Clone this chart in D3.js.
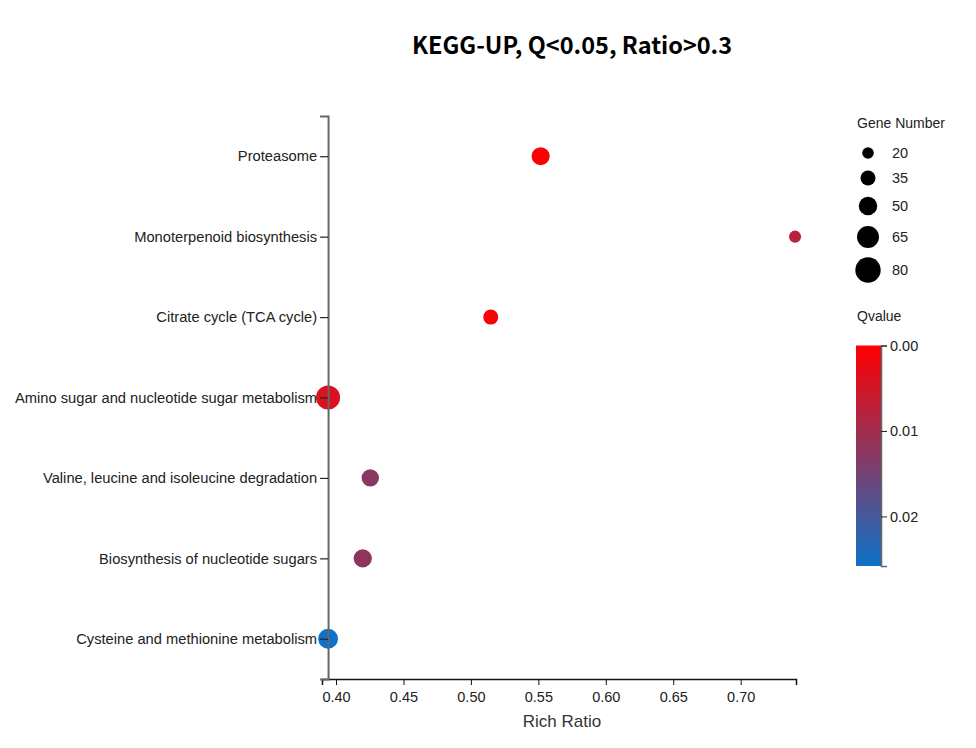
<!DOCTYPE html>
<html>
<head>
<meta charset="utf-8">
<script src="https://cdn.jsdelivr.net/npm/d3@7"></script>
<style>
  body { margin: 0; background: #fff; }
  svg text { font-family: "Liberation Sans", Arial, sans-serif; fill: #222; }
</style>
</head>
<body>
<svg id="chart" width="976" height="748"></svg>
<script>
const categories = [
  "Proteasome",
  "Monoterpenoid biosynthesis",
  "Citrate cycle (TCA cycle)",
  "Amino sugar and nucleotide sugar metabolism",
  "Valine, leucine and isoleucine degradation",
  "Biosynthesis of nucleotide sugars",
  "Cysteine and methionine metabolism"
];
const richRatio = [0.5517, 0.7403, 0.5147, 0.3941, 0.4254, 0.4198, 0.3941];
const geneNumber = [48, 22, 35, 74, 45, 49, 56];
const qValue = [0.0003, 0.0078, 0.0008, 0.004, 0.0125, 0.012, 0.0258];
const xTicks = [0.40, 0.45, 0.50, 0.55, 0.60, 0.65, 0.70];
const sizeLegend = [20, 35, 50, 65, 80];
const qTicks = [0.00, 0.01, 0.02];

const data = categories.map((c, i) => ({ cat: c, x: richRatio[i], n: geneNumber[i], q: qValue[i] }));

const svg = d3.select("#chart");

const x = d3.scaleLinear().domain([0.3896, 0.741]).range([322, 796]);
const y = d3.scalePoint().domain(categories).range([116, 679]).padding(0.5);
const r = d3.scaleLinear().domain([20, 80]).range([5.8, 12.7]);
const qMax = 0.0258;
const color = d3.scaleLinear().domain([0, qMax]).range(["#ff0000", "#0e72c8"]).interpolate(d3.interpolateRgb);

// title
svg.append("text")
  .attr("x", 572).attr("y", 54)
  .attr("text-anchor", "middle")
  .style("font-family", "'Noto Sans CJK SC', 'Open Sans', sans-serif")
  .style("font-weight", "bold")
  .style("font-size", "23.5px")
  .style("fill", "#000")
  .text("KEGG-UP, Q<0.05, Ratio>0.3");

// points
svg.append("g").selectAll("circle")
  .data(data).join("circle")
  .attr("cx", d => x(d.x))
  .attr("cy", d => y(d.cat))
  .attr("r", d => r(d.n))
  .attr("fill", d => color(d.q));

// x axis
const xAxis = svg.append("g")
  .attr("transform", "translate(0,679)")
  .call(d3.axisBottom(x).tickValues(xTicks).tickFormat(d3.format(".2f")).tickSizeOuter(6));
xAxis.select(".domain").attr("stroke", "#111").attr("stroke-width", 1.5);
xAxis.selectAll(".tick line").attr("stroke", "#111");
xAxis.selectAll(".tick text").style("font-size", "14.5px").attr("dy", "0.95em").style("fill", "#222");

svg.append("text")
  .attr("x", 562).attr("y", 727)
  .attr("text-anchor", "middle")
  .style("font-size", "17px")
  .style("fill", "#333")
  .text("Rich Ratio");

// y axis
const yX = x(d3.min(richRatio));
const yAxis = svg.append("g")
  .attr("transform", `translate(${yX},0)`)
  .call(d3.axisLeft(y).tickSize(8).tickSizeOuter(8).tickPadding(3));
yAxis.select(".domain").attr("stroke", "#666").attr("stroke-width", 2);
yAxis.selectAll(".tick line").attr("stroke", "#222").attr("stroke-width", 1.2);
yAxis.selectAll(".tick text").style("font-size", "14.7px").style("fill", "#222");

// size legend
const lg = svg.append("g");
lg.append("text").attr("x", 857).attr("y", 128).style("font-size", "14px").text("Gene Number");
const legY = [153, 178, 206, 237, 270];
lg.selectAll("circle.leg").data(sizeLegend).join("circle")
  .attr("class", "leg")
  .attr("cx", 868)
  .attr("cy", (d, i) => legY[i])
  .attr("r", d => r(d))
  .attr("fill", "#000");
lg.selectAll("text.leg").data(sizeLegend).join("text")
  .attr("class", "leg")
  .attr("x", 892)
  .attr("y", (d, i) => legY[i])
  .attr("dy", "0.35em")
  .style("font-size", "14.5px")
  .text(d => d);

// color legend
lg.append("text").attr("x", 857).attr("y", 321).style("font-size", "14px").text("Qvalue");
const defs = svg.append("defs");
const grad = defs.append("linearGradient").attr("id", "qgrad")
  .attr("x1", "0").attr("y1", "0").attr("x2", "0").attr("y2", "1");
d3.range(0, 1.0001, 0.1).forEach(t => {
  grad.append("stop").attr("offset", t).attr("stop-color", color(t * qMax));
});
const barTop = 345.5, barBot = 566;
lg.append("rect").attr("x", 856).attr("y", barTop).attr("width", 25).attr("height", barBot - barTop)
  .attr("fill", "url(#qgrad)");
const qScale = d3.scaleLinear().domain([0, qMax]).range([barTop, barBot]);
const qAxis = lg.append("g").attr("transform", "translate(881,0)")
  .call(d3.axisRight(qScale).tickValues(qTicks).tickFormat(d3.format(".2f")).tickSize(6).tickSizeOuter(6));
qAxis.select(".domain").attr("stroke", "#666").attr("stroke-width", 1.5);
qAxis.selectAll(".tick line").attr("stroke", "#222");
qAxis.selectAll(".tick text").style("font-size", "14.5px").style("fill", "#222");
</script>
</body>
</html>
